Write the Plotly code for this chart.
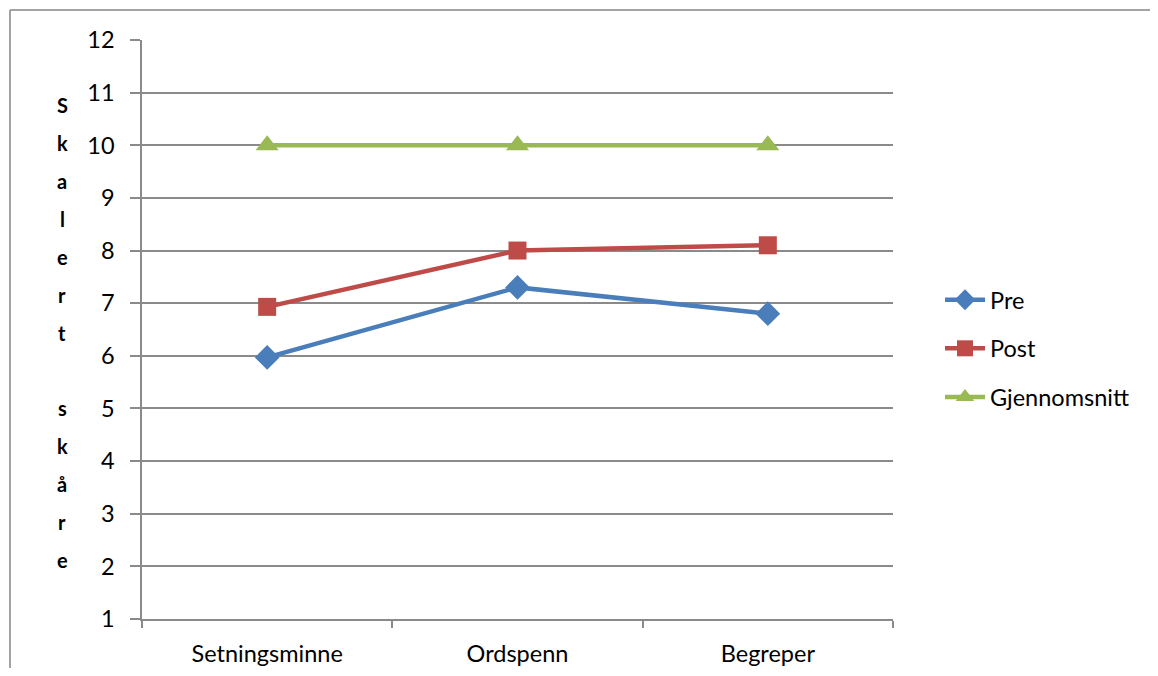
import plotly.graph_objects as go

categories = ["Setningsminne", "Ordspenn", "Begreper"]
pre = [5.97, 7.3, 6.8]
post = [6.93, 8.0, 8.1]
gjennomsnitt = [10, 10, 10]
y_ticks = list(range(1, 13))
y_title_letters = ["S", "k", "a", "l", "e", "r", "t", "", "s", "k", "å", "r", "e"]

FONT = "Lato"
GRID = "#8a8a8a"
FS = 23.5

fig = go.Figure()
fig.add_trace(go.Scatter(x=categories, y=pre, name="Pre", mode="lines+markers",
                         line=dict(color="#4A7EBB", width=4.5),
                         marker=dict(symbol="diamond", size=19, color="#4A7EBB"),
                         legendgroup="a"))
fig.add_trace(go.Scatter(x=categories, y=post, name="Post", mode="lines+markers",
                         line=dict(color="#BE4B48", width=4.5),
                         marker=dict(symbol="square", size=18, color="#BE4B48"),
                         legendgroup="b"))
fig.add_trace(go.Scatter(x=categories, y=gjennomsnitt, name="Gjennomsnitt", mode="lines+markers",
                         line=dict(color="#98B954", width=4.5),
                         marker=dict(symbol="triangle-up", size=20, color="#98B954"),
                         legendgroup="c"))

# page has an 8px body margin; figure px = page px - 8
W, H = 1142, 660
L, T = 134, 32
pw, ph = 751, 579
R, B = W - L - pw, H - T - ph


def px_x(fx):
    return (fx - L) / pw


def px_y(fy):
    return 1 - (fy - T) / ph


fig.update_layout(
    width=W, height=H,
    margin=dict(l=L, r=R, t=T, b=B, autoexpand=False),
    paper_bgcolor="white", plot_bgcolor="white",
    font=dict(family=FONT, size=FS, color="black"),
    showlegend=True,
    legend=dict(x=px_x(932), y=px_y(270), xanchor="left", yanchor="top",
                font=dict(size=FS), tracegroupgap=15, traceorder="grouped",
                itemwidth=40, bgcolor="rgba(0,0,0,0)"),
    xaxis=dict(type="category", range=[-0.5, 2.5], showgrid=False, automargin=False,
               showline=True, linecolor=GRID, linewidth=1.5,
               ticks="outside", tickson="boundaries", ticklen=7, tickcolor=GRID, tickwidth=1.5,
               tickfont=dict(size=FS), ticklabelstandoff=13),
    yaxis=dict(range=[1, 12], tickvals=y_ticks, showgrid=True, gridcolor=GRID, gridwidth=1.5,
               automargin=False,
               showline=True, linecolor=GRID, linewidth=1.5, zeroline=False,
               ticks="outside", ticklen=10, tickcolor=GRID, tickwidth=1.5,
               tickfont=dict(size=FS), ticklabelstandoff=11),
)

# stacked y-axis title letters
n = len(y_title_letters)
for i, ch in enumerate(y_title_letters):
    if not ch:
        continue
    fy = 97 + i * (552 - 97) / (n - 1)
    fig.add_annotation(text=f"<b>{ch}</b>", xref="paper", yref="paper",
                       x=px_x(54), y=px_y(fy), showarrow=False,
                       xanchor="center", yanchor="middle", font=dict(size=20, family=FONT))

# chart border (top and left edges only are visible)
border = dict(color="#868686", width=1.5)
fig.add_shape(type="line", xref="paper", yref="paper",
              x0=px_x(2), x1=px_x(1300), y0=px_y(2), y1=px_y(2), line=border, layer="below")
fig.add_shape(type="line", xref="paper", yref="paper",
              x0=px_x(2), x1=px_x(2), y0=px_y(2), y1=px_y(800), line=border, layer="below")

fig.write_html("out.html")
